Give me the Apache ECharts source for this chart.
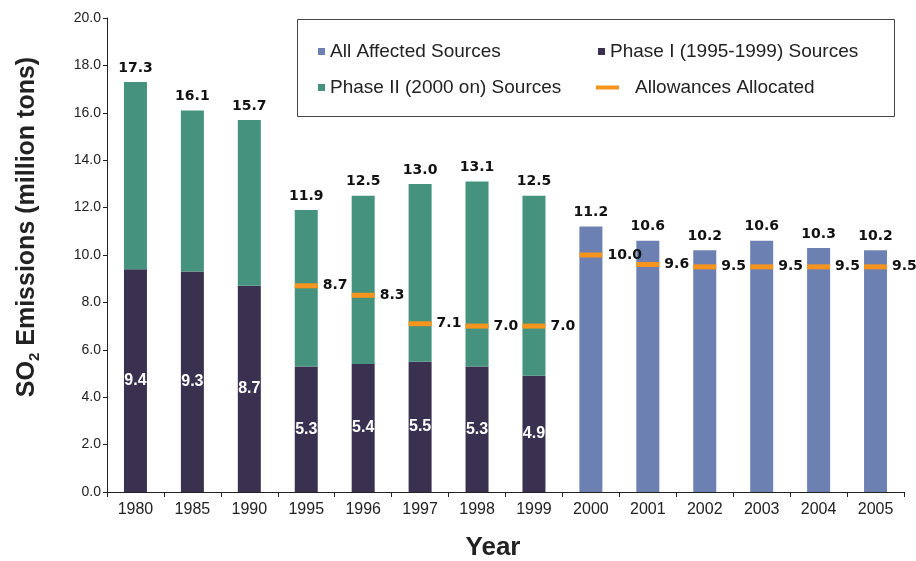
<!DOCTYPE html>
<html>
<head>
<meta charset="utf-8">
<script src="https://cdn.jsdelivr.net/npm/echarts@6/dist/echarts.min.js"></script>
<style>html,body{margin:0;padding:0;background:#fff;}#c{width:916px;height:561px;}</style>
</head>
<body>
<div id="c"></div>
<script>
var years = ['1980','1985','1990','1995','1996','1997','1998','1999','2000','2001','2002','2003','2004','2005'];
var phase1 = [9.4, 9.3, 8.7, 5.3, 5.4, 5.5, 5.3, 4.9, null, null, null, null, null, null];
var totals = [17.3, 16.1, 15.7, 11.9, 12.5, 13.0, 13.1, 12.5, null, null, null, null, null, null];
var allAffected = [null, null, null, null, null, null, null, null, 11.2, 10.6, 10.2, 10.6, 10.3, 10.2];
var allowances = [null, null, null, 8.7, 8.3, 7.1, 7.0, 7.0, 10.0, 9.6, 9.5, 9.5, 9.5, 9.5];
var yTicks = ['0.0','2.0','4.0','6.0','8.0','10.0','12.0','14.0','16.0','18.0','20.0'];

var phase2 = totals.map(function (t, i) {
  return (t == null || phase1[i] == null) ? '-' : +(t - phase1[i]).toFixed(1);
});
function dash(a) { return a.map(function (v) { return v == null ? '-' : v; }); }

var FONT = 'Liberation Sans';
var valLabel = { fontFamily: 'DejaVu Sans', fontWeight: 'bold', fontSize: 14, color: '#111' };

var chart = echarts.init(document.getElementById('c'), null, { renderer: 'canvas' });
function legendAt(name, left, top, extra) {
  var l = {
    data: [name], left: left, top: top, padding: 0, orient: 'horizontal',
    icon: 'rect', itemWidth: 7, itemHeight: 7, selectedMode: false,
    textStyle: { fontFamily: FONT, fontSize: 19, color: '#222' }
  };
  for (var k in extra) l[k] = extra[k];
  return l;
}
chart.setOption({
  animation: false,
  backgroundColor: '#fff',
  grid: { left: 107, right: 12, top: 18, bottom: 69 },
  legend: [
    legendAt('All Affected Sources', 318, 42),
    legendAt('Phase I (1995-1999) Sources', 598, 42),
    legendAt('Phase II (2000 on) Sources', 318, 78),
    legendAt('Allowances Allocated', 596, 78, { itemWidth: 23, itemHeight: 4,
      textStyle: { fontFamily: FONT, fontSize: 19, color: '#222', padding: [0, 0, 0, 11] } })
  ],
  graphic: [
    { type: 'rect', z: 0, shape: { x: 297.5, y: 19.5, width: 597, height: 97 },
      style: { fill: '#fff', stroke: '#444', lineWidth: 1 } },
    { type: 'text', x: 27, y: 227, rotation: Math.PI / 2,
      style: { text: '{a|SO}{b|2}{a| Emissions (million tons)}', align: 'center', verticalAlign: 'middle',
        rich: {
          a: { fontFamily: FONT, fontWeight: 'bold', fontSize: 25, lineHeight: 30, fill: '#222' },
          b: { fontFamily: FONT, fontWeight: 'bold', fontSize: 15, lineHeight: 15, verticalAlign: 'bottom', fill: '#222' }
        } } },
    { type: 'text', x: 493, y: 548,
      style: { text: 'Year', fontFamily: FONT, fontWeight: 'bold', fontSize: 26, fill: '#222',
        align: 'center', verticalAlign: 'middle' } }
  ],
  xAxis: {
    type: 'category', data: years, boundaryGap: true,
    axisLine: { lineStyle: { color: '#222', width: 1 } },
    axisTick: { show: true, length: 5, lineStyle: { color: '#222' } },
    axisLabel: { fontFamily: FONT, fontSize: 16, color: '#222', margin: 10 }
  },
  yAxis: {
    type: 'value', min: 0, max: 20, interval: 2,
    axisLine: { show: true, lineStyle: { color: '#222', width: 1 } },
    axisTick: { show: true, length: 4, lineStyle: { color: '#222' } },
    splitLine: { show: false },
    axisLabel: { fontFamily: FONT, fontSize: 14, color: '#222', margin: 6,
      formatter: function (v) { return yTicks[Math.round(v / 2)]; } }
  },
  series: [
    { name: 'Phase I (1995-1999) Sources', type: 'bar', stack: 's', barWidth: 23,
      itemStyle: { color: '#3a3150' }, data: dash(phase1),
      label: { show: true, position: 'inside', fontFamily: FONT, fontWeight: 'bold', fontSize: 16, color: '#fff',
        formatter: function (p) { return p.value.toFixed(1); } } },
    { name: 'Phase II (2000 on) Sources', type: 'bar', stack: 's', barWidth: 23,
      itemStyle: { color: '#45937f' }, data: phase2,
      label: Object.assign({ show: true, position: 'top', distance: 7,
        formatter: function (p) { return totals[p.dataIndex].toFixed(1); } }, valLabel) },
    { name: 'All Affected Sources', type: 'bar', stack: 's', barWidth: 23,
      itemStyle: { color: '#6c80b1' }, data: dash(allAffected),
      label: Object.assign({ show: true, position: 'top', distance: 7,
        formatter: function (p) { return p.value.toFixed(1); } }, valLabel) },
    { name: 'Allowances Allocated', type: 'scatter', symbol: 'rect', symbolSize: [23, 5], z: 5,
      itemStyle: { color: '#f7941d', opacity: 1 }, data: dash(allowances),
      label: Object.assign({ show: true, position: 'right', distance: 5,
        formatter: function (p) { return p.value.toFixed(1); } }, valLabel) }
  ]
});
</script>
</body>
</html>
